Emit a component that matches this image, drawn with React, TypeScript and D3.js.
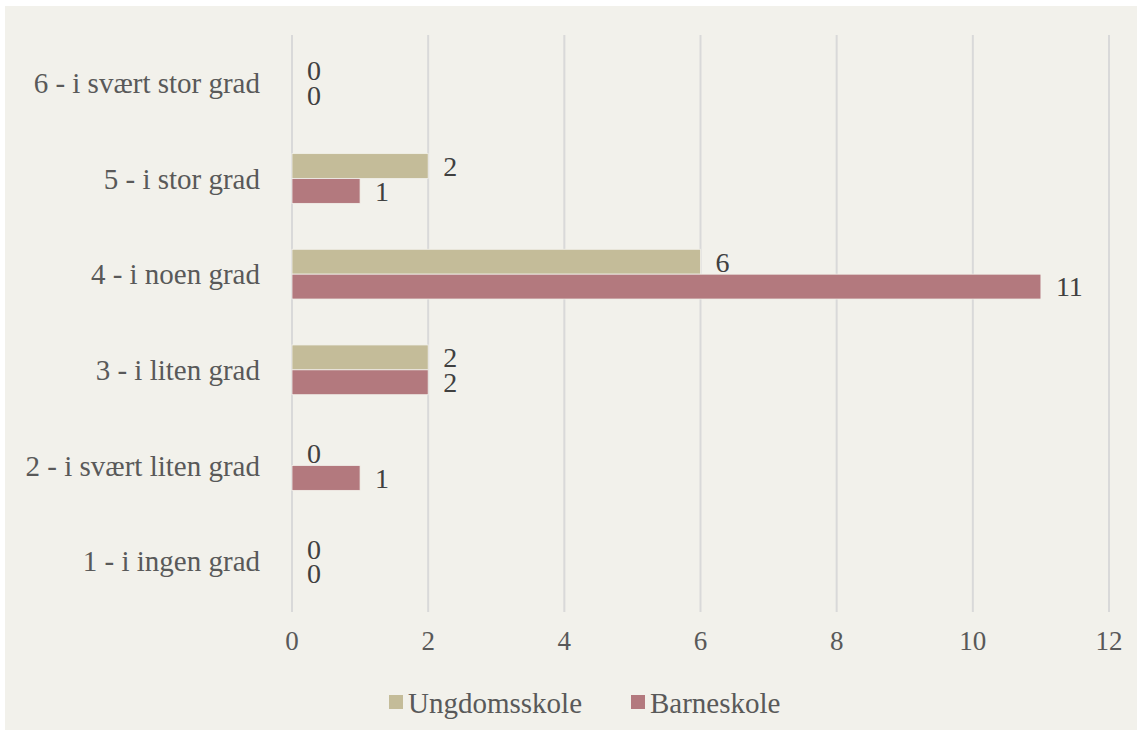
import React, { useEffect, useRef } from 'react';
import * as d3 from 'd3';

const categories = [
  '6 - i svært stor grad',
  '5 - i stor grad',
  '4 - i noen grad',
  '3 - i liten grad',
  '2 - i svært liten grad',
  '1 - i ingen grad',
];
const seriesNames = ['Ungdomsskole', 'Barneskole'];
const ungdomsskole = [0, 2, 6, 2, 0, 0];
const barneskole = [0, 1, 11, 2, 1, 0];
const xTicks = [0, 2, 4, 6, 8, 10, 12];
const colors = ['#c4bc99', '#b3797e'];

const App: React.FC = () => {
  const svgRef = useRef<SVGSVGElement>(null);

  useEffect(() => {
    if (!svgRef.current) return;
    const svg = d3.select(svgRef.current);
    svg.selectAll('*').remove();

    const width = 1142;
    const height = 735;
    const font = "'Liberation Serif', 'DejaVu Serif', serif";
    const textColor = '#595959';

    svg.attr('width', width).attr('height', height);

    // chart background
    svg.append('rect').attr('width', width).attr('height', height).attr('fill', '#ffffff');
    svg.append('rect')
      .attr('x', 5).attr('y', 6)
      .attr('width', width - 10).attr('height', height - 11)
      .attr('fill', '#f2f1eb');

    const x = d3.scaleLinear().domain([0, 12]).range([292, 1109]);
    const y = d3.scaleBand().domain(categories).range([35, 609]).paddingInner(0.48).paddingOuter(0.24);
    const sub = d3.scaleBand().domain(seriesNames).range([0, y.bandwidth()]);

    // grid lines
    svg.append('g')
      .selectAll('line')
      .data(xTicks)
      .enter()
      .append('line')
      .attr('x1', d => x(d)).attr('x2', d => x(d))
      .attr('y1', 35).attr('y2', 612)
      .attr('stroke', '#d9d9d9')
      .attr('stroke-width', 2);

    // tick labels
    svg.append('g')
      .selectAll('text')
      .data(xTicks)
      .enter()
      .append('text')
      .attr('x', d => x(d))
      .attr('y', 641)
      .attr('dy', '0.35em')
      .attr('text-anchor', 'middle')
      .style('font-family', font)
      .style('font-size', '27px')
      .attr('fill', textColor)
      .text(d => d);

    // category labels
    svg.append('g')
      .selectAll('text')
      .data(categories)
      .enter()
      .append('text')
      .attr('x', 260)
      .attr('y', d => y(d)! + y.bandwidth() / 2)
      .attr('dy', '0.35em')
      .attr('text-anchor', 'end')
      .style('font-family', font)
      .style('font-size', '29px')
      .attr('fill', textColor)
      .text(d => d);

    const series = [ungdomsskole, barneskole];
    series.forEach((vals, si) => {
      const name = seriesNames[si];
      const g = svg.append('g');
      g.selectAll('rect')
        .data(vals)
        .enter()
        .append('rect')
        .attr('x', x(0))
        .attr('y', (_, i) => y(categories[i])! + sub(name)!)
        .attr('width', d => x(d) - x(0))
        .attr('height', sub.bandwidth())
        .attr('fill', colors[si])
        .attr('stroke', d => (d > 0 ? '#f2f1eb' : 'none'))
        .attr('stroke-width', 0.8);

      g.selectAll('text')
        .data(vals)
        .enter()
        .append('text')
        .attr('x', d => x(d) + 15)
        .attr('y', (_, i) => y(categories[i])! + sub(name)! + sub.bandwidth() / 2)
        .attr('dy', '0.35em')
        .style('font-family', font)
        .style('font-size', '28px')
        .attr('fill', '#404040')
        .text(d => d);
    });

    // legend
    const legendItems = [
      { name: seriesNames[0], color: colors[0], x: 389 },
      { name: seriesNames[1], color: colors[1], x: 631 },
    ];
    const legend = svg.append('g');
    legendItems.forEach(item => {
      legend.append('rect')
        .attr('x', item.x).attr('y', 695)
        .attr('width', 14).attr('height', 14)
        .attr('fill', item.color);
      legend.append('text')
        .attr('x', item.x + 19).attr('y', 703)
        .attr('dy', '0.35em')
        .style('font-family', font)
        .style('font-size', '29px')
        .attr('fill', textColor)
        .text(item.name);
    });
  }, []);

  return (
    <div style={{ position: 'fixed', left: 0, top: 0 }}>
      <svg ref={svgRef} style={{ display: 'block' }}></svg>
    </div>
  );
};

export default App;
